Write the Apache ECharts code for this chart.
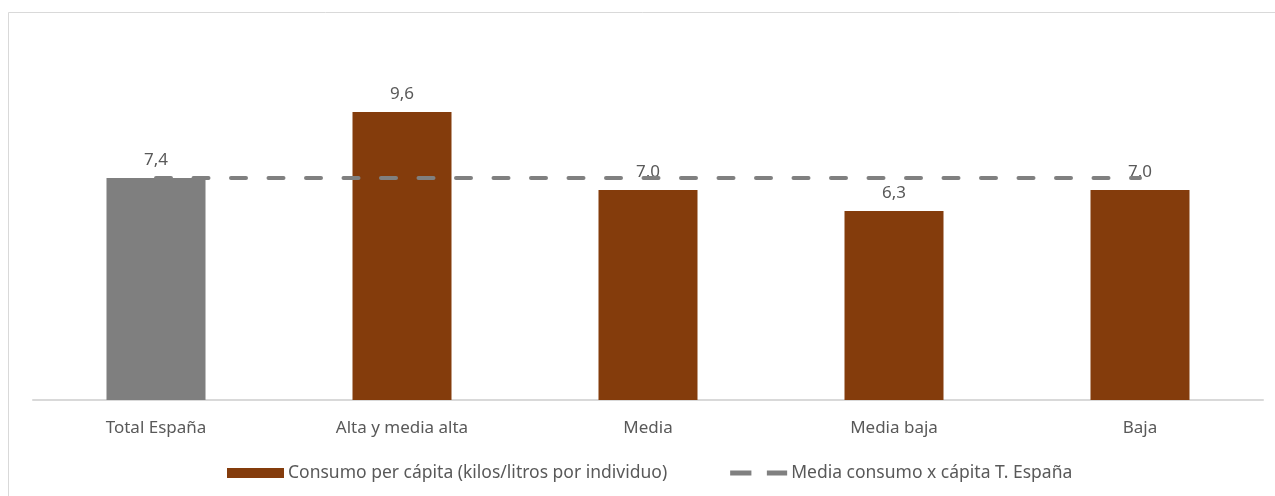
<!DOCTYPE html>
<html>
<head>
<meta charset="utf-8">
<script src="https://cdn.jsdelivr.net/npm/echarts@6/dist/echarts.min.js"></script>
<style>
  html, body { margin: 0; padding: 0; background: #fff; }
  #chart { width: 1275px; height: 496px; }
</style>
</head>
<body>
<div id="chart"></div>
<script>
// datos
const categorias = ['Total España', 'Alta y media alta', 'Media', 'Media baja', 'Baja']
const consumo = [7.4, 9.6, 7.0, 6.3, 7.0]
const mediaEspana = [7.4, 7.4, 7.4, 7.4, 7.4]

const nombreBarras = 'Consumo per cápita (kilos/litros por individuo)'
const nombreLinea = 'Media consumo x cápita T. España'

var myChart = echarts.init(document.getElementById('chart'))

const txt = '#595959'
const fuente = 'Noto Sans'

var option = {
  backgroundColor: '#fff',
  animation: false,
  graphic: [
    {
      type: 'rect',
      shape: { x: 8.5, y: 12.5, width: 1275, height: 500 },
      style: { fill: 'none', stroke: '#d9d9d9', lineWidth: 1 },
      silent: true,
    },
  ],
  grid: { left: 33, right: 12, top: 40, bottom: 96 },
  legend: {
    top: 459,
    left: 222,
    itemGap: 63,
    itemWidth: 57,
    itemHeight: 10,
    textStyle: { color: txt, fontSize: 17.5, fontFamily: fuente, padding: [0, 0, 0, -1] },
    data: [
      { name: nombreBarras, icon: 'rect', itemStyle: { color: '#843c0c' } },
      // icono de dos trazos como el de la leyenda original
      { name: nombreLinea, icon: 'path://M0,0h22v5h-22z M38,0h21v5h-21z', itemStyle: { color: '#808080' } },
    ],
  },
  xAxis: {
    type: 'category',
    data: categorias,
    axisLine: { lineStyle: { color: '#d9d9d9', width: 2 } },
    axisTick: { show: false },
    axisLabel: { color: txt, fontSize: 17, fontFamily: fuente, margin: 20 },
  },
  yAxis: {
    type: 'value',
    min: 0,
    max: 12,
    show: false,
    splitLine: { show: false },
  },
  series: [
    {
      name: nombreBarras,
      type: 'bar',
      barWidth: 99,
      data: consumo.map((v, i) => ({
        value: v,
        itemStyle: { color: i === 0 ? '#7f7f7f' : '#843c0c' },
      })),
      itemStyle: { color: '#843c0c' },
      label: {
        show: true,
        position: 'top',
        distance: 9,
        color: txt,
        fontSize: 17,
        fontFamily: fuente,
        formatter: (p) => p.value.toFixed(1).replace('.', ','),
      },
    },
    {
      name: nombreLinea,
      type: 'line',
      data: mediaEspana,
      symbol: 'none',
      z: 3,
      itemStyle: { color: '#808080' },
      lineStyle: { color: '#808080', width: 4, type: [15, 22.5], cap: 'round' },
    },
  ],
}

myChart.setOption(option)
</script>
</body>
</html>
